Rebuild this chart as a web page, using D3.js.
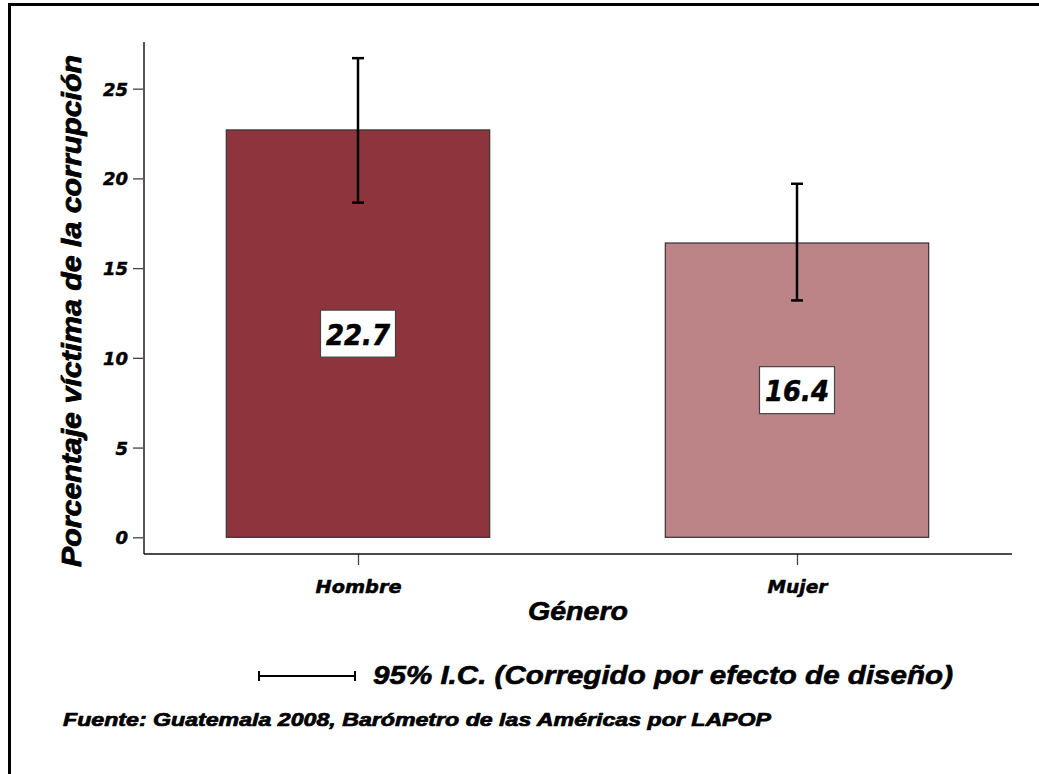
<!DOCTYPE html>
<html><head><meta charset="utf-8">
<script src="https://cdn.jsdelivr.net/npm/d3@7"></script>
<style>html,body{margin:0;padding:0;background:#fff;}svg{display:block;}</style>
</head><body>
<script>
const categories = ["Hombre", "Mujer"];
const values = [22.7, 16.4];
const ciLow = [18.65, 13.2];
const ciHigh = [26.7, 19.7];
const yTicks = [0, 5, 10, 15, 20, 25];
const barColors = ["#8d343c", "#bc8487"];
const yTitle = "Porcentaje víctima de la corrupción";
const xTitle = "Género";
const legendText = "95% I.C. (Corregido por efecto de diseño)";
const sourceText = "Fuente: Guatemala 2008, Barómetro de las Américas por LAPOP";

const W = 1039, H = 774;
const svg = d3.select("body").append("svg").attr("width", W).attr("height", H);

// frame
svg.append("path").attr("d", `M${W+5},4.5 H9.5 V${H+5}`).attr("fill","none").attr("stroke","#000").attr("stroke-width",3);

const y = d3.scaleLinear().domain([-0.93, 27.6]).range([554, 42]);
const x = d3.scalePoint().domain(categories).range([138.5, 1016.5]).padding(0.5);
const bw = x.step() * 0.6;

const sansW = "'DejaVu Sans', Verdana, sans-serif";
const sansN = "'Liberation Sans', Arial, sans-serif";

function heavy(sel, sw) {
  return sel.attr("font-weight","bold").attr("fill","#000").attr("stroke","#000")
    .attr("stroke-width", sw).attr("stroke-linejoin","round").attr("paint-order","stroke");
}

// y axis
const yAxis = svg.append("g").attr("transform", "translate(144,0)")
  .call(d3.axisLeft(y).tickValues(yTicks).tickSize(11).tickPadding(5).tickFormat(d3.format("d")));
yAxis.select(".domain").remove();
yAxis.append("line").attr("x1",0).attr("x2",0).attr("y1",y.range()[0]).attr("y2",y.range()[1]).attr("stroke","#555").attr("stroke-width",2);
yAxis.selectAll(".tick line").attr("stroke","#444").attr("stroke-width",1.3);
heavy(yAxis.selectAll(".tick text").attr("font-family", sansW).attr("font-style","oblique")
  .attr("font-size", 18).attr("dy","0.36em"), 0.5);

// x axis
const xAxis = svg.append("g").attr("transform", "translate(0,554)")
  .call(d3.axisBottom(x).tickSize(11).tickPadding(15));
xAxis.select(".domain").remove();
xAxis.append("line").attr("x1",144).attr("x2",1012).attr("y1",0).attr("y2",0).attr("stroke","#111").attr("stroke-width",1.6);
xAxis.selectAll(".tick line").attr("stroke","#444").attr("stroke-width",1.3);
heavy(xAxis.selectAll(".tick text").attr("font-family", sansW).attr("font-style","oblique")
  .attr("font-size", 18).attr("dy","0.72em")
  .attr("textLength", d => d === "Hombre" ? 86 : 60).attr("lengthAdjust","spacingAndGlyphs"), 0.5);

// bars
svg.selectAll("rect.bar").data(categories).join("rect").attr("class","bar")
  .attr("x", d => x(d) - bw/2).attr("width", bw)
  .attr("y", (d,i) => y(values[i])).attr("height", (d,i) => y(0) - y(values[i]))
  .attr("fill", (d,i) => barColors[i]).attr("stroke","#333").attr("stroke-width",1.2);

// error bars
const eb = svg.selectAll("g.eb").data(categories).join("g").attr("class","eb");
eb.append("line").attr("x1", d => x(d)).attr("x2", d => x(d))
  .attr("y1",(d,i)=>y(ciLow[i])).attr("y2",(d,i)=>y(ciHigh[i])).attr("stroke","#000").attr("stroke-width",2.5);
eb.append("line").attr("x1", d => x(d)-6).attr("x2", d => x(d)+6)
  .attr("y1",(d,i)=>y(ciLow[i])).attr("y2",(d,i)=>y(ciLow[i])).attr("stroke","#000").attr("stroke-width",2.5);
eb.append("line").attr("x1", d => x(d)-6).attr("x2", d => x(d)+6)
  .attr("y1",(d,i)=>y(ciHigh[i])).attr("y2",(d,i)=>y(ciHigh[i])).attr("stroke","#000").attr("stroke-width",2.5);

// value labels
const vl = svg.selectAll("g.vl").data(categories).join("g").attr("class","vl")
  .attr("transform",(d,i)=>`translate(${x(d)},${y(values[i]/2)})`);
vl.append("rect").attr("x",-37.5).attr("y",-23.5).attr("width",75).attr("height",47)
  .attr("fill","#fff").attr("stroke","#444").attr("stroke-width",1.2);
heavy(vl.append("text").attr("text-anchor","middle").attr("y",11)
  .attr("font-family", sansW).attr("font-style","oblique").attr("font-size",29)
  .attr("textLength",64).attr("lengthAdjust","spacingAndGlyphs")
  .text((d,i)=>values[i].toFixed(1)), 0.6);

// titles
heavy(svg.append("text").attr("transform","translate(81,311) rotate(-90)").attr("text-anchor","middle")
  .attr("font-family", sansN).attr("font-style","italic").attr("font-size",28)
  .attr("textLength",512).attr("lengthAdjust","spacingAndGlyphs").text(yTitle), 0.8);
heavy(svg.append("text").attr("x",578).attr("y",620).attr("text-anchor","middle")
  .attr("font-family", sansN).attr("font-style","italic").attr("font-size",25)
  .attr("textLength",100).attr("lengthAdjust","spacingAndGlyphs").text(xTitle), 0.6);

// legend
const lg = svg.append("g");
lg.append("line").attr("x1",259).attr("x2",355).attr("y1",676).attr("y2",676).attr("stroke","#000").attr("stroke-width",2);
lg.append("line").attr("x1",259).attr("x2",259).attr("y1",671).attr("y2",681).attr("stroke","#000").attr("stroke-width",2);
lg.append("line").attr("x1",355).attr("x2",355).attr("y1",671).attr("y2",681).attr("stroke","#000").attr("stroke-width",2);
heavy(lg.append("text").attr("x",373).attr("y",684)
  .attr("font-family", sansN).attr("font-style","italic").attr("font-size",26)
  .attr("textLength",580).attr("lengthAdjust","spacingAndGlyphs").text(legendText), 0.6);

heavy(svg.append("text").attr("x",63).attr("y",726)
  .attr("font-family", sansN).attr("font-style","italic").attr("font-size",18)
  .attr("textLength",708).attr("lengthAdjust","spacingAndGlyphs").text(sourceText), 0.7);
</script>
</body></html>
